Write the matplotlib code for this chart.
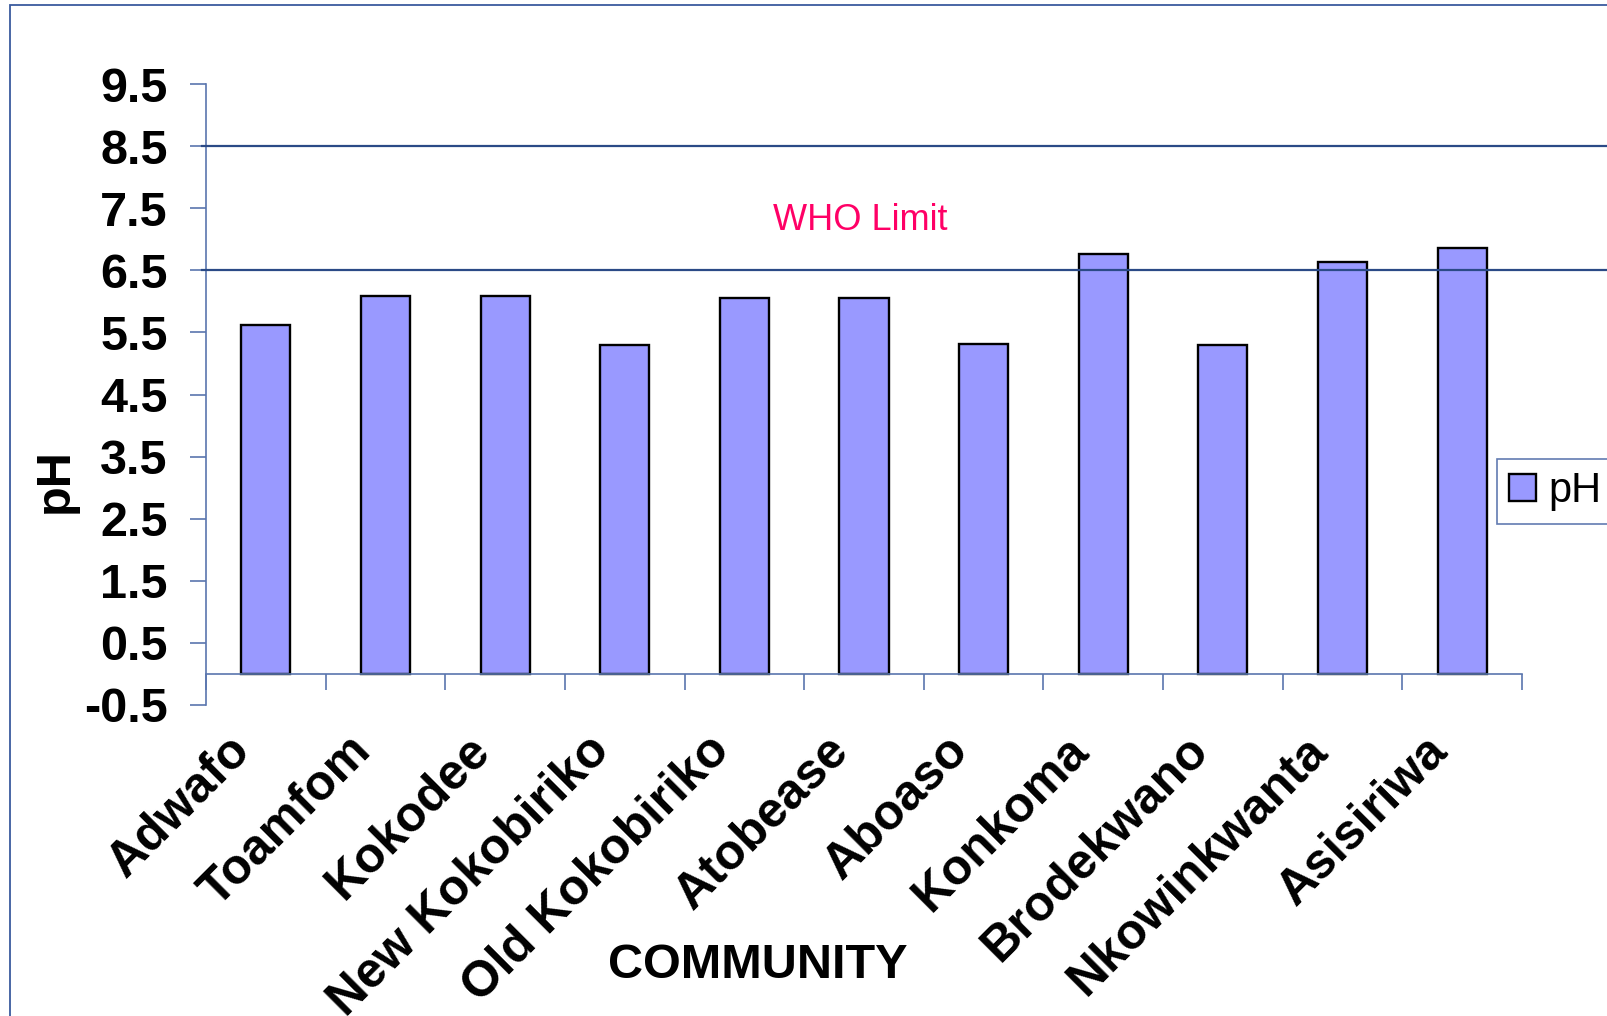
import numpy as np
import matplotlib
matplotlib.use("Agg")
import matplotlib.pyplot as plt
from matplotlib.patches import Rectangle
from matplotlib.transforms import ScaledTranslation

plt.rcParams['font.family'] = ['Liberation Sans', 'DejaVu Sans']

# data
communities = ['Adwafo', 'Toamfom', 'Kokodee', 'New Kokobiriko', 'Old Kokobiriko',
               'Atobease', 'Aboaso', 'Konkoma', 'Brodekwano', 'Nkowinkwanta', 'Asisiriwa']
ph_values = [5.62, 6.09, 6.09, 5.29, 6.05, 6.05, 5.32, 6.77, 5.29, 6.64, 6.86]
who_lower = 6.5
who_upper = 8.5
y_ticks = [-0.5, 0.5, 1.5, 2.5, 3.5, 4.5, 5.5, 6.5, 7.5, 8.5, 9.5]

W, H = 1608, 1016
fig = plt.figure(figsize=(W / 100, H / 100), dpi=100)
fig.patch.set_facecolor('white')

# outer frame (cut off at right and bottom)
fig.patches.append(Rectangle((10 / W, -0.2), 1.3, 1.2 - 5 / H, transform=fig.transFigure,
                             fill=False, edgecolor='#3A5A9E', linewidth=1.3))

ax = fig.add_axes([206 / W, 1 - 705 / H, (1522 - 206) / W, (705 - 84) / H])
ax.set_facecolor('none')

axis_col = '#5A76AE'
x = np.arange(len(communities))
ax.bar(x, ph_values, width=0.41, color='#9999FF', edgecolor='black', linewidth=1.7,
       label='pH', zorder=2)

# WHO range lines, running past the plot to the figure edge
for yv in [who_lower, who_upper]:
    ax.axhline(yv, xmin=-0.003, xmax=1.2, color='#2B4A86', linewidth=1.6,
               clip_on=False, zorder=3)
ax.text(4.97, (who_lower + who_upper) / 2 - 0.2, 'WHO Limit', color='#FF0066',
        fontsize=26, ha='center', va='center')

ax.set_xlim(-0.5, len(communities) - 0.5)
ax.set_ylim(-0.5, 9.5)

for s in ['top', 'right']:
    ax.spines[s].set_visible(False)
ax.spines['bottom'].set_position(('data', 0))
ax.spines['bottom'].set_color(axis_col)
ax.spines['left'].set_color(axis_col)
ax.spines['bottom'].set_linewidth(1.2)
ax.spines['left'].set_linewidth(1.2)

ax.set_yticks(y_ticks)
ax.set_yticklabels([f'{v:.1f}' for v in y_ticks], fontsize=35, fontweight='bold')
ax.tick_params(axis='y', direction='out', length=11.5, width=1.2, color=axis_col, pad=16)

ax.set_xticks(x)
ax.set_xticks(np.arange(-0.5, len(communities), 1), minor=True)
ax.tick_params(axis='x', which='major', length=0, pad=50)
ax.tick_params(axis='x', which='minor', direction='out', length=11.5, width=1.2, color=axis_col)
ax.set_xticklabels(communities, fontsize=35.7, fontweight='bold', rotation=45,
                   ha='right', va='center', rotation_mode='anchor')
shift = ScaledTranslation(-0.22, 0, fig.dpi_scale_trans)
for lab in ax.get_xticklabels():
    lab.set_transform(lab.get_transform() + shift)

fig.text(55 / W, 1 - 481 / H, 'pH', rotation=90, fontsize=35, fontweight='bold',
         ha='center', va='center')
fig.text(758 / W, 1 - 965 / H, 'COMMUNITY', fontsize=35, fontweight='bold',
         ha='center', va='center')

leg = ax.legend(loc='center left', bbox_to_anchor=(1497 / W, 1 - 491 / H),
                bbox_transform=fig.transFigure, fontsize=30, frameon=True,
                fancybox=False, handlelength=0.63, handleheight=0.63,
                handletextpad=0.3, borderpad=0.3, borderaxespad=0)
leg.get_frame().set_edgecolor('#3A5A9E')
leg.get_frame().set_linewidth(1.2)

fig.savefig('out.png', dpi=100)
